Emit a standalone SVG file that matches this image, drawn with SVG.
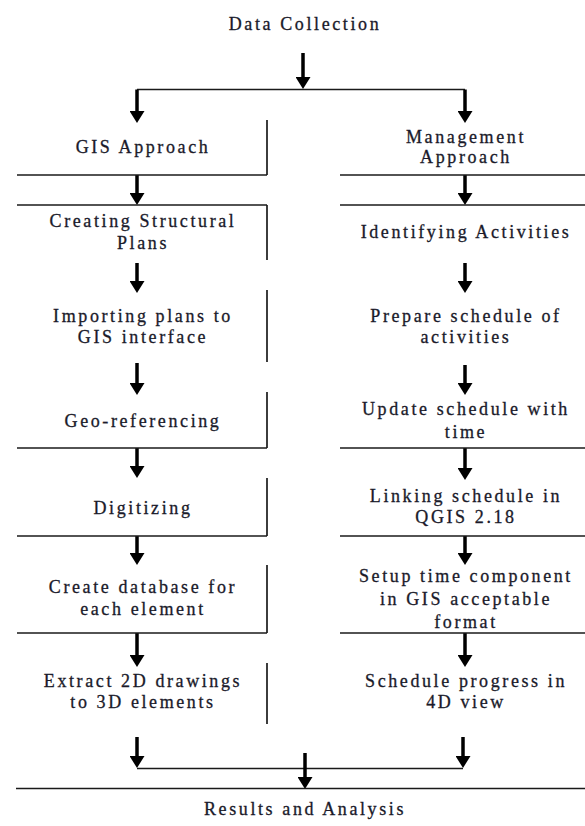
<svg xmlns="http://www.w3.org/2000/svg" width="585" height="826" viewBox="0 0 585 826">
<style>
  .bg { fill: #ffffff; }
  .ln { stroke: #1a1a1a; stroke-width: 1.7; fill: none; }
  .ar { stroke: #000000; stroke-width: 3.5; fill: none; marker-end: url(#head); }
  .t { font-family: "Liberation Serif", "Times New Roman", serif; font-size: 18px; letter-spacing: 2.6px; fill: #1a1a2a; stroke: #1a1a2a; stroke-width: 0.3; text-anchor: middle; }
</style>
<defs>
  <marker id="head" markerUnits="userSpaceOnUse" markerWidth="12" markerHeight="15" viewBox="0 -7.5 12 15" refX="4" refY="0" orient="auto">
    <path d="M0,-7.5 L12,0 L0,7.5 Z" fill="#000000"/>
  </marker>
</defs>
<rect class="bg" x="0" y="0" width="585" height="826"/>

<g id="connectors">
  <!-- top split -->
  <line class="ar" x1="303" y1="53" x2="303" y2="81"/>
  <line class="ln" x1="137" y1="89.5" x2="465" y2="89.5"/>
  <line class="ar" x1="137" y1="89.5" x2="137" y2="115"/>
  <line class="ar" x1="465" y1="89.5" x2="465" y2="115"/>
  <!-- left column arrows -->
  <line class="ar" x1="137" y1="175" x2="137" y2="197"/>
  <line class="ar" x1="137" y1="263" x2="137" y2="285"/>
  <line class="ar" x1="137" y1="363" x2="137" y2="387"/>
  <line class="ar" x1="137" y1="448" x2="137" y2="470"/>
  <line class="ar" x1="137" y1="536" x2="137" y2="557"/>
  <line class="ar" x1="137" y1="633" x2="137" y2="659"/>
  <!-- right column arrows -->
  <line class="ar" x1="465" y1="175" x2="465" y2="197"/>
  <line class="ar" x1="465" y1="263" x2="465" y2="285"/>
  <line class="ar" x1="465" y1="365" x2="465" y2="387"/>
  <line class="ar" x1="465" y1="448" x2="465" y2="472"/>
  <line class="ar" x1="465" y1="536" x2="465" y2="557"/>
  <line class="ar" x1="465" y1="633" x2="465" y2="659"/>
  <!-- merge -->
  <line class="ar" x1="137" y1="737" x2="137" y2="760"/>
  <line class="ar" x1="463" y1="737" x2="463" y2="760"/>
  <line class="ln" x1="137" y1="768.5" x2="463" y2="768.5"/>
  <line class="ar" x1="305" y1="753" x2="305" y2="781"/>
</g>

<g id="frame">
  <!-- middle vertical segments -->
  <line class="ln" x1="267" y1="120" x2="267" y2="175"/>
  <line class="ln" x1="267" y1="205" x2="267" y2="260"/>
  <line class="ln" x1="267" y1="290" x2="267" y2="362"/>
  <line class="ln" x1="267" y1="392" x2="267" y2="448"/>
  <line class="ln" x1="267" y1="478" x2="267" y2="536"/>
  <line class="ln" x1="267" y1="565" x2="267" y2="633"/>
  <line class="ln" x1="267" y1="663" x2="267" y2="724"/>
  <!-- left horizontal -->
  <line class="ln" x1="17" y1="175" x2="267" y2="175"/>
  <line class="ln" x1="17" y1="205" x2="267" y2="205"/>
  <line class="ln" x1="17" y1="448" x2="267" y2="448"/>
  <line class="ln" x1="17" y1="536" x2="267" y2="536"/>
  <line class="ln" x1="17" y1="633" x2="267" y2="633"/>
  <!-- right horizontal -->
  <line class="ln" x1="340" y1="175" x2="585" y2="175"/>
  <line class="ln" x1="340" y1="205" x2="585" y2="205"/>
  <line class="ln" x1="340" y1="448" x2="585" y2="448"/>
  <line class="ln" x1="340" y1="536" x2="585" y2="536"/>
  <line class="ln" x1="340" y1="633" x2="585" y2="633"/>
  <!-- bottom -->
  <line class="ln" x1="16" y1="788.5" x2="585" y2="788.5"/>
</g>

<g id="data-collection"><text class="t" x="305" y="30">Data Collection</text></g>

<g id="gis-approach"><text class="t" x="143" y="153">GIS Approach</text></g>
<g id="creating-plans"><text class="t" x="143" y="227">Creating Structural</text><text class="t" x="143" y="249">Plans</text></g>
<g id="importing-plans"><text class="t" x="143" y="322">Importing plans to</text><text class="t" x="143" y="343">GIS interface</text></g>
<g id="geo-referencing"><text class="t" x="143" y="427">Geo-referencing</text></g>
<g id="digitizing"><text class="t" x="143" y="514">Digitizing</text></g>
<g id="create-database"><text class="t" x="143" y="593">Create database for</text><text class="t" x="143" y="615">each element</text></g>
<g id="extract-2d"><text class="t" x="143" y="687">Extract 2D drawings</text><text class="t" x="143" y="708">to 3D elements</text></g>

<g id="management-approach"><text class="t" x="466" y="143">Management</text><text class="t" x="466" y="163">Approach</text></g>
<g id="identifying-activities"><text class="t" x="466" y="238">Identifying Activities</text></g>
<g id="prepare-schedule"><text class="t" x="466" y="322">Prepare schedule of</text><text class="t" x="466" y="343">activities</text></g>
<g id="update-schedule"><text class="t" x="466" y="415">Update schedule with</text><text class="t" x="466" y="438">time</text></g>
<g id="linking-schedule"><text class="t" x="466" y="502">Linking schedule in</text><text class="t" x="466" y="523">QGIS 2.18</text></g>
<g id="setup-time"><text class="t" x="466" y="582">Setup time component</text><text class="t" x="466" y="605">in GIS acceptable</text><text class="t" x="466" y="628">format</text></g>
<g id="schedule-progress"><text class="t" x="466" y="687">Schedule progress in</text><text class="t" x="466" y="708">4D view</text></g>

<g id="results"><text class="t" x="305" y="815">Results and Analysis</text></g>
</svg>
